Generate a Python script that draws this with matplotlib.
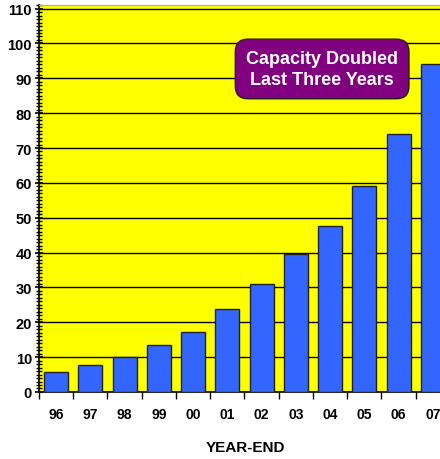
import numpy as np
import matplotlib.pyplot as plt
from matplotlib.ticker import MultipleLocator

years = ['96', '97', '98', '99', '00', '01', '02', '03', '04', '05', '06', '07']
capacity = [5.8, 7.6, 10.1, 13.5, 17.2, 23.7, 31.0, 39.5, 47.5, 59.2, 74.0, 94.0]

plt.rcParams['font.family'] = ['Liberation Sans', 'DejaVu Sans']
narrow = ['Liberation Sans Narrow', 'Liberation Sans', 'DejaVu Sans']

fig = plt.figure(figsize=(4.4, 4.6), dpi=100)
ax = fig.add_axes([0.0886, 0.1457, 0.934, 0.841])
ax.set_facecolor('#FFFF00')

x = np.arange(len(years))
ax.bar(x, capacity, width=0.7, color='#3366FF', edgecolor='#202020',
       linewidth=1.0, zorder=3)

ax.set_xlim(-0.5, len(years) - 0.5)

# horizontal grid at every major tick
ax.yaxis.set_major_locator(MultipleLocator(10))
ax.yaxis.set_minor_locator(MultipleLocator(1))
ax.grid(axis='y', which='major', color='black', linewidth=1.0, zorder=1)

# ticks on the category boundaries, labels at the centres
ax.set_xticks(np.arange(len(years) + 1) - 0.5)
ax.set_xticklabels([])
ax.set_xticks(x, minor=True)
ax.set_xticklabels(years, minor=True, fontsize=10, fontweight='bold', family=narrow)
ax.tick_params(axis='x', which='major', direction='out', length=5, width=1)
ax.tick_params(axis='x', which='minor', length=0, pad=11)

ax.tick_params(axis='y', which='major', direction='inout', length=6, width=1.2, pad=2)
ax.tick_params(axis='y', which='minor', direction='inout', length=4, width=1)
yt = np.arange(0, 111, 10)
ax.set_yticks(yt)
ax.set_yticklabels([str(v) for v in yt], fontsize=10.5,
                   fontweight='bold', family=narrow)
ax.set_ylim(0, 111)

ax.spines['left'].set_linewidth(1.2)
ax.spines['bottom'].set_linewidth(1.2)
ax.spines['top'].set_color('#AAAAAA')
ax.spines['right'].set_visible(False)

ax.text(0.689, 0.835, 'Capacity Doubled\nLast Three Years', transform=ax.transAxes,
        ha='center', va='center', color='white', fontsize=13, fontweight='bold',
        linespacing=1.3, zorder=5,
        bbox=dict(boxstyle='round,pad=0.6,rounding_size=0.7', facecolor='#800080',
                  edgecolor='#202020', linewidth=1.0))

fig.text(0.557, 0.026, 'YEAR-END', ha='center', va='center',
         fontsize=11, fontweight='bold')

fig.savefig('out.png', dpi=100)
